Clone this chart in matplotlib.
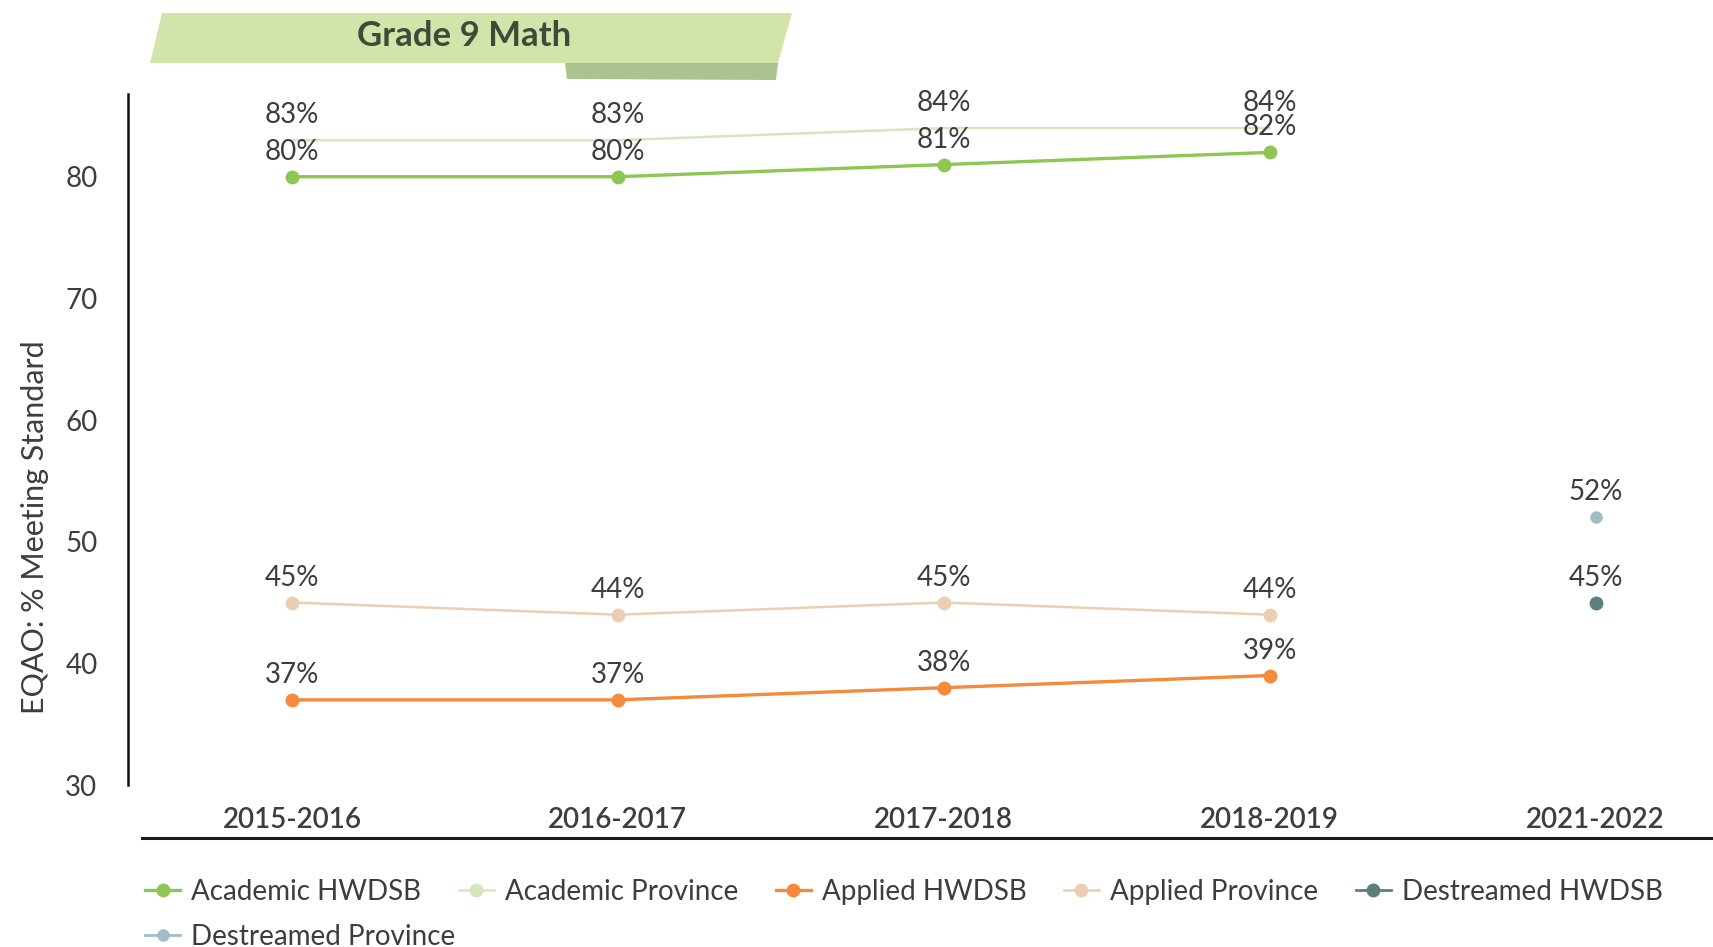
import numpy as np
import matplotlib

matplotlib.use("Agg")
import matplotlib.pyplot as plt  # noqa: E402
from matplotlib.lines import Line2D  # noqa: E402
from matplotlib.patches import Polygon  # noqa: E402

# ----------------------------------------------------------------------------
# Data
# ----------------------------------------------------------------------------
years = ["2015-2016", "2016-2017", "2017-2018", "2018-2019", "2021-2022"]

academic_hwdsb = [80, 80, 81, 82, np.nan]
academic_province = [83, 83, 84, 84, np.nan]
applied_hwdsb = [37, 37, 38, 39, np.nan]
applied_province = [45, 44, 45, 44, np.nan]
destreamed_hwdsb = [np.nan, np.nan, np.nan, np.nan, 45]
destreamed_province = [np.nan, np.nan, np.nan, np.nan, 52]

series_names = [
    "Academic HWDSB",
    "Academic Province",
    "Applied HWDSB",
    "Applied Province",
    "Destreamed HWDSB",
    "Destreamed Province",
]
series_values = [
    academic_hwdsb,
    academic_province,
    applied_hwdsb,
    applied_province,
    destreamed_hwdsb,
    destreamed_province,
]
colors = ["#8dc652", "#d5e6bf", "#f48a3a", "#ebcfb2", "#5e7e7c", "#a1bcc6"]
line_widths = [2.4, 1.8, 2.4, 1.8, 2.0, 2.0]
marker_sizes = [10, 0, 10, 10, 10, 9]

FONT = "Lato"
TEXT_COLOR = "#3d3d3d"
FS = 20

# ----------------------------------------------------------------------------
# Figure
# ----------------------------------------------------------------------------
W, H = 1713, 947
fig = plt.figure(figsize=(W / 100, H / 100), dpi=100)
fig.patch.set_facecolor("white")
ax = fig.add_axes([128 / W, 1 - 785 / H, 1 - 128 / W, (785 - 94) / H])

x = np.arange(len(years))
handles = []
for name, vals, c, lw, ms in zip(series_names, series_values, colors, line_widths, marker_sizes):
    vals = np.asarray(vals, dtype=float)
    (h,) = ax.plot(x, vals, color=c, lw=lw, marker="o", markersize=ms,
                   markeredgewidth=0, label=name, zorder=3)
    handles.append(h)
    for xi, v in zip(x, vals):
        if np.isnan(v):
            continue
        ax.annotate(f"{v:.0f}%", (xi, v), xytext=(0, 18), textcoords="offset points",
                    ha="center", va="center", fontsize=FS, family=FONT,
                    color=TEXT_COLOR, zorder=4)

ax.set_xlim(-0.503, 4.36)
ax.set_ylim(30, 86.8)
ax.set_yticks([30, 40, 50, 60, 70, 80])
ax.set_xticks(x)
ax.set_xticklabels(years)
ax.tick_params(axis="both", length=0, labelsize=FS, labelcolor=TEXT_COLOR)
ax.tick_params(axis="y", pad=22)
ax.tick_params(axis="x", pad=16)
for lab in ax.get_xticklabels() + ax.get_yticklabels():
    lab.set_family(FONT)
for lab in ax.get_xticklabels():
    lab.set_fontweight("semibold")

for side in ("top", "right", "bottom"):
    ax.spines[side].set_visible(False)
ax.spines["left"].set_color("#111111")
ax.spines["left"].set_linewidth(1.8)

ax.set_ylabel("EQAO: % Meeting Standard", fontsize=22, family=FONT, color=TEXT_COLOR)
ax.yaxis.set_label_coords(-0.050, 0.373)

# x-axis rule drawn below the category labels
fig.add_artist(Line2D([142 / W, 1.0], [1 - 838 / H] * 2, transform=fig.transFigure,
                      color="#1a1a1a", lw=2.2))

# ----------------------------------------------------------------------------
# Title banner
# ----------------------------------------------------------------------------
def fig_pts(pts):
    return [(px / W, 1 - py / H) for px, py in pts]

shadow = Polygon(fig_pts([(565, 63), (778, 63), (776, 80), (567, 79)]),
                 closed=True, transform=fig.transFigure, facecolor="#abc48f",
                 edgecolor="none", zorder=1)
banner = Polygon(fig_pts([(162, 13), (792, 13), (778, 63), (150, 63)]),
                 closed=True, transform=fig.transFigure, facecolor="#d3e4aa",
                 edgecolor="none", zorder=2)
fig.add_artist(shadow)
fig.add_artist(banner)
fig.text(464 / W, 1 - 36 / H, "Grade 9 Math", ha="center", va="center",
         fontsize=25, family=FONT, fontweight="bold", color="#3f4b3a", zorder=3)

# ----------------------------------------------------------------------------
# Legend: five items on the first row, one wrapped onto the second
# ----------------------------------------------------------------------------
leg_kw = dict(frameon=False, borderpad=0, borderaxespad=0, handlelength=1.26,
              handletextpad=0.4, columnspacing=1.35, prop={"family": FONT, "size": FS})
leg1 = fig.legend(handles[:5], series_names[:5], loc="center left",
                  bbox_to_anchor=(145 / W, 1 - 892 / H), ncol=5, **leg_kw)
leg2 = fig.legend(handles[5:], series_names[5:], loc="center left",
                  bbox_to_anchor=(145 / W, 1 - 937 / H), ncol=1, **leg_kw)
for leg in (leg1, leg2):
    for t in leg.get_texts():
        t.set_color(TEXT_COLOR)
# the Academic Province line has no markers on the chart but shows one in the legend
leg1.legend_handles[1].set_markersize(10)

fig.savefig("out.png", dpi=100)
plt.close(fig)
